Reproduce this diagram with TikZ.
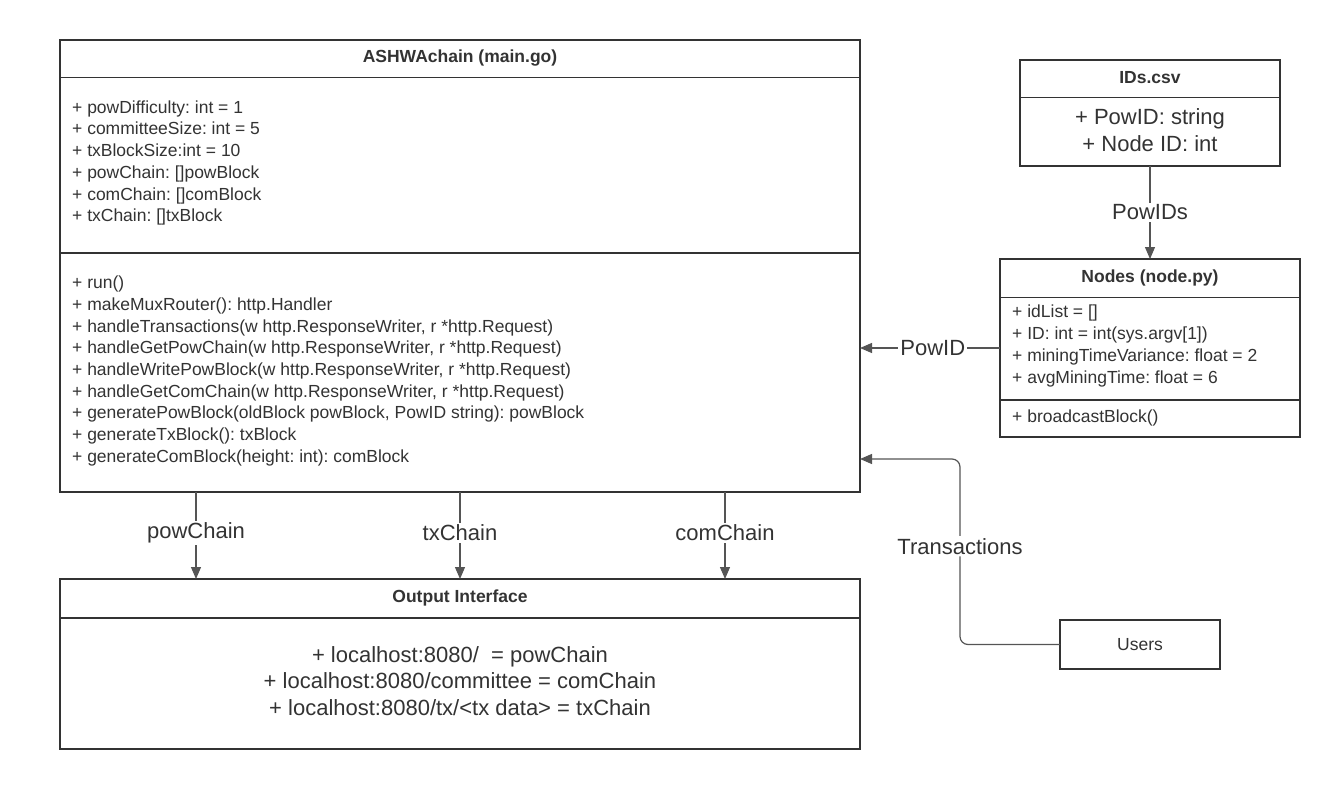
\documentclass[tikz,border=0pt]{standalone}
\usepackage{fontspec}
\setmainfont{Liberation Sans}
\usetikzlibrary{arrows.meta}
\definecolor{ink}{HTML}{333333}
\definecolor{wire}{HTML}{555555}
\frenchspacing
\begin{document}
\begin{tikzpicture}[x=1pt,y=-1pt,
  box/.style={draw=ink,line width=1.7pt,anchor=north west,inner sep=0pt,outer sep=0pt,fill=white},
  sep/.style={draw=ink,line width=1.7pt},
  title/.style={font=\fontsize{17.5}{21}\selectfont\bfseries,text=ink,inner sep=0pt},
  list/.style={font=\fontsize{17.5}{21.7}\selectfont,text=ink,align=left,anchor=west,inner sep=0pt},
  biglist/.style={font=\fontsize{22}{26.6}\selectfont,text=ink,align=center,inner sep=0pt},
  conn/.style={draw=wire,line width=1.2pt,-{Triangle[length=12pt,width=10pt]}},
  lbl/.style={fill=white,font=\fontsize{22}{26}\selectfont,text=ink,inner sep=2pt}
]
\useasboundingbox (0,0) rectangle (1325,792);

% main program class
\node[box,minimum width=800pt,minimum height=452pt] (main) at (60,40) {};
\draw[sep] (60,77.5) -- (860,77.5);
\draw[sep] (60,253) -- (860,253);
\node[title] (maintitle) at (460,58) {ASHWAchain (main.go)};
\node[list] (mainattrs) at (72,163) {%
+ powDifficulty: int = 1\\
+ committeeSize: int = 5\\
+ txBlockSize:int = 10\\
+ powChain: []powBlock\\
+ comChain: []comBlock\\
+ txChain: []txBlock};
\node[list] (mainops) at (72,371) {%
+ run()\\
+ makeMuxRouter(): http.Handler\\
+ handleTransactions(w http.ResponseWriter, r *http.Request)\\
+ handleGetPowChain(w http.ResponseWriter, r *http.Request)\\
+ handleWritePowBlock(w http.ResponseWriter, r *http.Request)\\
+ handleGetComChain(w http.ResponseWriter, r *http.Request)\\
+ generatePowBlock(oldBlock powBlock, PowID string): powBlock\\
+ generateTxBlock(): txBlock\\
+ generateComBlock(height: int): comBlock};

% output interface
\node[box,minimum width=800pt,minimum height=170pt] (out) at (60,579) {};
\draw[sep] (60,618) -- (860,618);
\node[title] (outtitle) at (460,598) {Output Interface};
\node[biglist] (outbody) at (460,681) {%
+ localhost:8080/\ \ = powChain\\
+ localhost:8080/committee = comChain\\
+ localhost:8080/tx/<tx data> = txChain};

% ID file
\node[box,minimum width=260pt,minimum height=106pt] (ids) at (1020,60) {};
\draw[sep] (1020,97.5) -- (1280,97.5);
\node[title] (idstitle) at (1150,78) {IDs.csv};
\node[biglist] (idsbody) at (1150,130) {%
+ PowID: string\\
+ Node ID: int};

% mining nodes
\node[box,minimum width=300pt,minimum height=178pt] (nodes) at (1000,259) {};
\draw[sep] (1000,297.5) -- (1300,297.5);
\draw[sep] (1000,400) -- (1300,400);
\node[title] (nodestitle) at (1150,278) {Nodes (node.py)};
\node[list] (nodesattrs) at (1012,346) {%
+ idList = []\\
+ ID: int = int(sys.argv[1])\\
+ miningTimeVariance: float = 2\\
+ avgMiningTime: float = 6};
\node[list] (nodesops) at (1012,418) {+ broadcastBlock()};

% users
\node[box,minimum width=160pt,minimum height=49pt] (users) at (1060,620) {};
\node[font=\fontsize{17.5}{21}\selectfont,text=ink,inner sep=0pt] (userstext) at (users.center) {Users};

% connectors
\draw[conn] (ids.south) -- node[lbl] {PowIDs} (nodes.north);
\draw[conn] (nodes.west) -- node[lbl,pos=0.48] {PowID} (nodes.west -| main.east);

\coordinate (tlow) at (960,644.5);
\coordinate (thigh) at (960,459);
\draw[conn,rounded corners=8pt] (users.west) -- (tlow)
  -- node[lbl,pos=0.53] {Transactions} (thigh) -- (thigh -| main.east);

\draw[conn] ([xshift=136pt]main.south west) -- node[lbl,pos=0.47] {powChain} ([xshift=136pt]out.north west);
\draw[conn] (main.south) -- node[lbl,pos=0.47] {txChain} (out.north);
\draw[conn] ([xshift=665pt]main.south west) -- node[lbl,pos=0.47] {comChain} ([xshift=665pt]out.north west);
\end{tikzpicture}
\end{document}
